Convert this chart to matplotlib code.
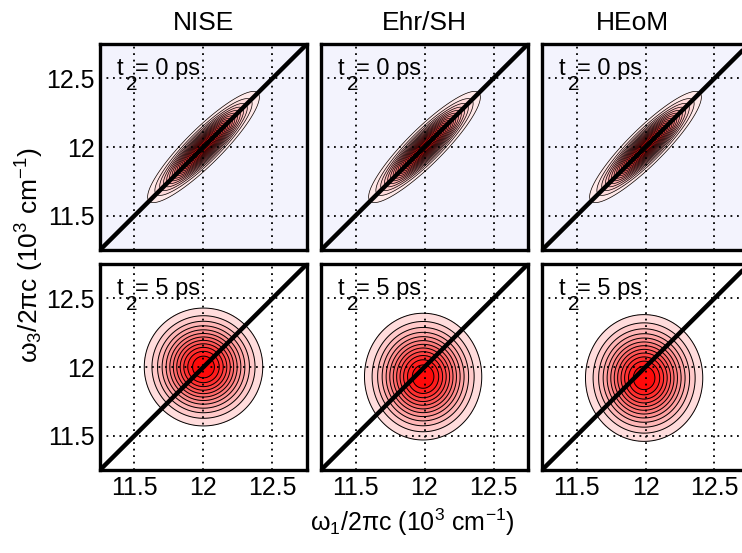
import numpy as np
import matplotlib.pyplot as plt
from matplotlib.colors import LinearSegmentedColormap

plt.rcParams['font.family'] = ['Liberation Sans', 'DejaVu Sans']
plt.rcParams['mathtext.fontset'] = 'custom'
plt.rcParams['mathtext.rm'] = 'Liberation Sans'
plt.rcParams['mathtext.it'] = 'Liberation Sans:italic'

# columns / rows
methods = ["NISE", "Ehr/SH", "HEoM"]
t2_values = [0, 5]
ticks = [11.5, 12.0, 12.5]
tick_labels = ["11.5", "12", "12.5"]
w_min, w_max = 11.25, 12.75

# t2 = 0 ps: peak stretched along the diagonal (widths in 10^3 cm^-1)
centre_w1_t0 = [12.0, 12.0, 12.0]
centre_w3_t0 = [12.0, 12.0, 12.0]
diag_width_t0 = [0.235, 0.235, 0.235]
anti_width_t0 = [0.055, 0.055, 0.055]

# t2 = 5 ps: nearly round peak
centre_w1_t5 = [12.0, 11.99, 11.99]
centre_w3_t5 = [12.0, 11.93, 11.92]
width_w1_t5 = [0.2, 0.198, 0.198]
width_w3_t5 = [0.2, 0.215, 0.215]

levels_t0 = np.linspace(0.06, 1.0, 17)
levels_t5 = np.linspace(0.1, 1.0, 13)

# title x positions (axes fraction)
title_x = [0.5, 0.5, 0.435]

cmap = LinearSegmentedColormap.from_list("wr", ["#ffffff", "#ff0000"])

w = np.linspace(w_min, w_max, 400)
W1, W3 = np.meshgrid(w, w)


def spectrum_t0(i):
    u = ((W1 - centre_w1_t0[i]) + (W3 - centre_w3_t0[i])) / np.sqrt(2)
    v = ((W3 - centre_w3_t0[i]) - (W1 - centre_w1_t0[i])) / np.sqrt(2)
    return np.exp(-u**2 / (2 * diag_width_t0[i]**2)
                  - v**2 / (2 * anti_width_t0[i]**2))


def spectrum_t5(i):
    return np.exp(-(W1 - centre_w1_t5[i])**2 / (2 * width_w1_t5[i]**2)
                  - (W3 - centre_w3_t5[i])**2 / (2 * width_w3_t5[i]**2))


fig = plt.figure(figsize=(7.42, 5.53), dpi=100)

lefts = [100 / 742, 321 / 742, 542 / 742]
bottoms = [1 - 250 / 553, 1 - 470 / 553]
width = 207 / 742
height = 206 / 553

for r, t2 in enumerate(t2_values):
    for c, name in enumerate(methods):
        ax = fig.add_axes([lefts[c], bottoms[r], width, height])
        if r == 0:
            Z = spectrum_t0(c)
            levels = levels_t0
            lw = 0.5
            ax.set_facecolor("#f3f3fd")
        else:
            Z = spectrum_t5(c)
            levels = levels_t5
            lw = 0.7
            ax.set_facecolor("white")

        ax.contourf(W1, W3, Z, levels=list(levels) + [1.01], cmap=cmap,
                    vmin=0, vmax=1, zorder=1)
        ax.contour(W1, W3, Z, levels=levels, colors="k", linewidths=lw,
                   zorder=2)

        ax.set_xlim(w_min, w_max)
        ax.set_ylim(w_min, w_max)
        ax.set_xticks(ticks)
        ax.set_yticks(ticks)
        ax.set_xticklabels(tick_labels if r == 1 else [])
        ax.set_yticklabels(tick_labels if c == 0 else [])
        ax.tick_params(direction="in", length=0, labelsize=18, pad=4)
        ax.grid(True, color="k", linestyle=(0, (1, 2.6)), linewidth=1.3,
                zorder=3)
        ax.set_axisbelow(False)

        # diagonal
        ax.plot([w_min, w_max], [w_min, w_max], color="k", linewidth=3.2,
                solid_capstyle="butt", zorder=4)

        for sp in ax.spines.values():
            sp.set_linewidth(2.4)
            sp.set_zorder(5)

        # t2 label with a low-set subscript
        ax.text(11.373, 12.525, "t", fontsize=17, ha="left", va="baseline",
                zorder=6)
        ax.text(11.435, 12.415, "2", fontsize=15, ha="left", va="baseline",
                zorder=6)
        ax.text(11.505, 12.525, "= %d ps" % t2, fontsize=17, ha="left",
                va="baseline", zorder=6)

        if r == 0:
            ax.set_title(name, fontsize=19, pad=10, x=title_x[c])

fig.text(412 / 742, 1 - 522 / 553,
         r"$\mathregular{\omega_1/2\pi c\ (10^3\ cm^{-1})}$",
         fontsize=18, ha="center", va="center")
fig.text(30 / 742, 1 - 255 / 553,
         r"$\mathregular{\omega_3/2\pi c\ (10^3\ cm^{-1})}$",
         fontsize=19, ha="center", va="center", rotation=90)

fig.savefig("out.png", dpi=100)
